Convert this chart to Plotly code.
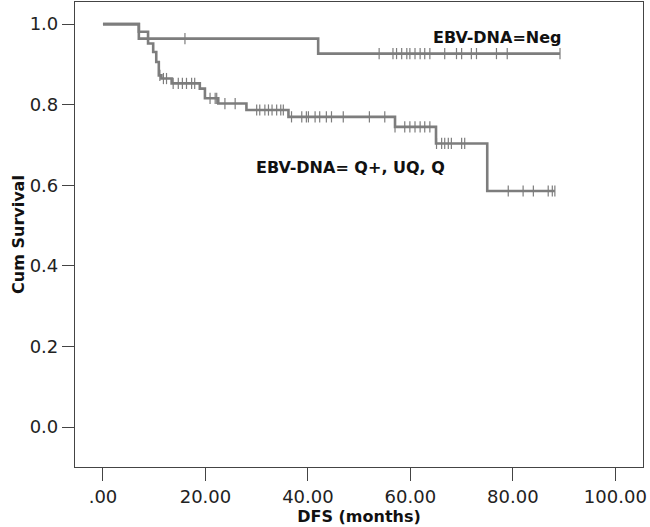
import numpy as np
import plotly.graph_objects as go

# Kaplan-Meier steps (months, cumulative survival)
neg_step_t = [0, 7.0, 42.0]
neg_step_s = [1.0, 0.964, 0.927]
neg_end = 89.2
neg_cens_t = [16.0, 53.9, 56.6, 57.3, 58.3, 59.3, 59.9, 60.9, 61.9, 62.8, 63.8,
              66.7, 69.0, 70.0, 71.9, 72.9, 76.8, 78.9, 89.2]

pos_step_t = [0, 7.0, 8.8, 9.8, 10.4, 10.9, 11.4, 13.4, 18.9, 19.9, 22.5, 28.0,
              36.2, 57.0, 65.0, 75.0]
pos_step_s = [1.0, 0.981, 0.952, 0.931, 0.906, 0.873, 0.865, 0.853, 0.840, 0.816,
              0.803, 0.787, 0.770, 0.745, 0.704, 0.586]
pos_end = 88.2
pos_cens_t = [11.1, 11.8, 12.4, 13.7, 14.7, 15.5, 16.3, 17.3, 17.9, 20.9, 21.9,
              22.2, 23.8, 25.8, 30.0, 30.6, 31.6, 32.3, 33.0, 33.9, 34.7, 35.2,
              36.8, 38.8, 39.7, 40.1, 41.4, 42.3, 43.6, 44.6, 46.9, 52.0, 55.0,
              57.0, 58.9, 59.9, 60.9, 61.9, 62.8, 63.8, 65.1, 66.1, 66.7, 67.4,
              68.0, 70.0, 70.6, 79.1, 82.0, 84.0, 86.9, 87.7, 88.2]

x_ticks = [0, 20, 40, 60, 80, 100]
x_ticktext = [".00", "20.00", "40.00", "60.00", "80.00", "100.00"]
y_ticks = [0.0, 0.2, 0.4, 0.6, 0.8, 1.0]
y_ticktext = ["0.0", "0.2", "0.4", "0.6", "0.8", "1.0"]

gray = "#7d7d7d"


def km_value(step_t, step_s, t):
    # survival at time t from the step function
    idx = np.searchsorted(step_t, t, side="right") - 1
    return np.array(step_s)[idx]


fig = go.Figure()
for st, ss, end, cens in [(neg_step_t, neg_step_s, neg_end, neg_cens_t),
                          (pos_step_t, pos_step_s, pos_end, pos_cens_t)]:
    fig.add_trace(go.Scatter(x=st + [end], y=ss + [ss[-1]], mode="lines",
                             line=dict(color=gray, width=2.6, shape="hv"),
                             hoverinfo="skip"))
    fig.add_trace(go.Scatter(x=cens, y=km_value(st, ss, cens), mode="markers",
                             marker=dict(symbol="line-ns", size=8,
                                         line=dict(color=gray, width=1.2)),
                             hoverinfo="skip"))

txt = dict(family="DejaVu Sans", size=16, color="#111111")
fig.add_annotation(x=77.0, y=0.968, text="<b>EBV-DNA=Neg</b>", showarrow=False, font=txt)
fig.add_annotation(x=48.4, y=0.645, text="<b>EBV-DNA= Q+, UQ, Q</b>", showarrow=False, font=txt)

axis_common = dict(showline=True, linecolor="#444444", linewidth=1.2, mirror=True,
                   ticks="outside", tickcolor="#444444", tickwidth=1.2,
                   showgrid=False, zeroline=False, automargin=False,
                   tickfont=dict(family="DejaVu Sans", size=18, color="#222222"))

fig.update_xaxes(range=[-5.46, 105.4], tickvals=x_ticks, ticktext=x_ticktext,
                 ticklen=13, title=dict(text="<b>DFS (months)</b>", standoff=4,
                                        font=dict(family="DejaVu Sans", size=16, color="#111111")),
                 **axis_common)
fig.update_yaxes(range=[-0.099, 1.055], tickvals=y_ticks, ticktext=y_ticktext,
                 ticklen=12, title=dict(text="<b>Cum Survival</b>", standoff=1,
                                        font=dict(family="DejaVu Sans", size=16, color="#111111")),
                 **axis_common)

fig.update_layout(width=650, height=527, showlegend=False,
                  plot_bgcolor="white", paper_bgcolor="white",
                  margin=dict(l=75, r=7, t=2, b=60))

# drop the browser's default body margin so the figure sits at the page corner
fig.write_html("out.html", config={"displayModeBar": False},
               post_script="document.body.style.margin='0';")
